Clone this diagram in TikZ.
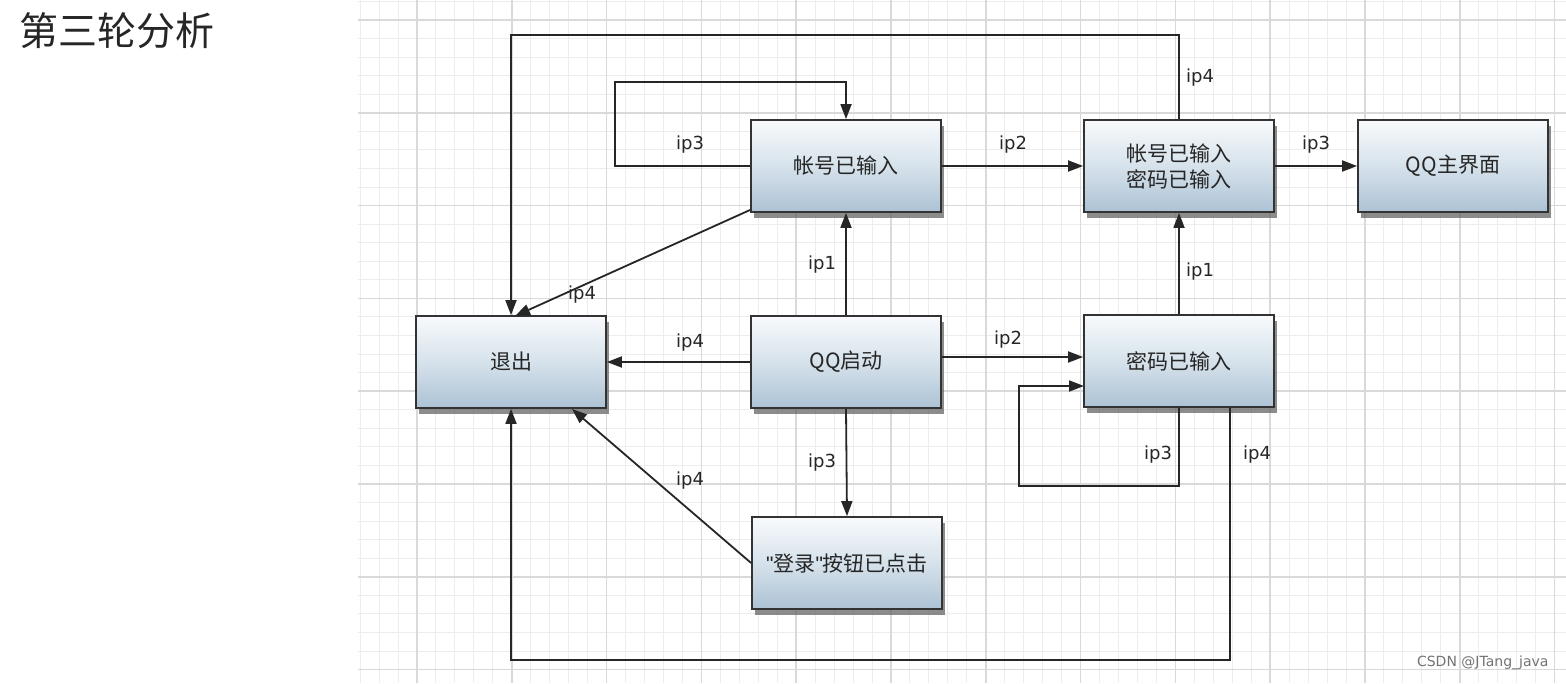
\documentclass[tikz,border=0pt]{standalone}
\usepackage{fontspec}
\setmainfont{DejaVu Sans}
\newfontfamily\cjk{Noto Sans CJK SC}
\newfontfamily\latinq{Liberation Sans}
\usetikzlibrary{arrows.meta,shadows,calc}
\definecolor{boxbot}{RGB}{172,194,212}
\definecolor{boxmid}{RGB}{214,226,235}
\definecolor{boxtop}{RGB}{248,250,252}
\begin{document}
\begin{tikzpicture}[x=1pt,y=-1pt,
  box/.style={draw=black!80,line width=1.8pt,minimum width=190pt,minimum height=92pt,inner sep=0pt,
    top color=boxtop,bottom color=boxbot,middle color=boxmid,
    drop shadow={shadow xshift=3pt,shadow yshift=-6pt,fill=black!60,opacity=0.75},
    font=\cjk\fontsize{21}{26}\selectfont,text=black!85,align=center},
  conn/.style={line width=1.8pt,draw=black!85,-{Triangle[length=15pt,width=11pt]}},
  lbl/.style={font=\fontsize{18}{20}\selectfont,text=black!85,inner sep=0pt}
]
\useasboundingbox (0,0) rectangle (1566,683);
\fill[white] (0,0) rectangle (1566,683);
% grid
\begin{scope}
\clip (358,0) rectangle (1566,683);
\foreach \i in {-3,...,63}{
  \pgfmathsetmacro{\xx}{417+18.96*\i}
  \draw[black!7,line width=1pt] (\xx,0) -- (\xx,683);
}
\foreach \j in {-1,...,36}{
  \pgfmathsetmacro{\yy}{20+18.56*\j}
  \draw[black!7,line width=1pt] (358,\yy) -- (1566,\yy);
}
\foreach \i in {-1,...,13}{
  \pgfmathsetmacro{\xx}{417+94.8*\i}
  \draw[black!15,line width=1.5pt] (\xx,0) -- (\xx,683);
}
\foreach \j in {0,...,7}{
  \pgfmathsetmacro{\yy}{20+92.8*\j}
  \draw[black!15,line width=1.5pt] (358,\yy) -- (1566,\yy);
}
\end{scope}

% title
\node[font=\cjk\fontsize{39}{44}\selectfont,text=black!85,anchor=west,inner sep=0pt] (title) at (19,31) {第三轮分析};

% boxes
\node[box] (A) at (846,166) {帐号已输入};
\node[box] (AB) at (1179,166) {帐号已输入\\密码已输入};
\node[box] (M) at (1453,166) {QQ主界面};
\node[box] (E) at (511,362) {退出};
\node[box] (S) at (846,362) {QQ启动};
\node[box] (P) at (1179,361) {密码已输入};
\node[box] (L) at (847,563) {{\latinq "}登录{\latinq "}按钮已点击};

% helper coordinates
\coordinate (t1) at (1179,35);
\coordinate (t2) at (511,35);
\coordinate (la) at (615,82);
\coordinate (lp) at (1019,486);
\coordinate (pin) at (1084,386);
\coordinate (pb) at (1230,408);
\coordinate (bl) at (511,660);
\coordinate (ein) at (572,409);
\coordinate (ein2) at (515,316);
\coordinate (aout) at (750,210);

% connectors
\draw[conn] (AB.north) -- (t1) -- (t2) -- (E.north);
\draw[conn] (A.west) -| (la) -| (A.north);
\draw[conn] (A.east) -- (AB.west);
\draw[conn] (AB.east) -- (M.west);
\draw[conn] (aout) -- (ein2);
\draw[conn] (S.north) -- (A.south);
\draw[conn] (S.west) -- (E.east);
\draw[conn] ([yshift=5pt]S.east) -- ([yshift=4pt]P.west);
\draw[conn] (P.north) -- (AB.south);
\draw[conn] (P.south) |- (lp) |- (pin);
\draw[conn] (S.south) -- (L.north);
\draw[conn] (L.west) -- (ein);
\draw[conn] (pb) |- (bl) -- (E.south);

% labels
\node[lbl] (l1) at (1200,78) {ip4};
\node[lbl] (l2) at (690,145) {ip3};
\node[lbl] (l3) at (1013,145) {ip2};
\node[lbl] (l4) at (1316,145) {ip3};
\node[lbl] (l5) at (582,295) {ip4};
\node[lbl] (l6) at (822,265) {ip1};
\node[lbl] (l7) at (690,343) {ip4};
\node[lbl] (l8) at (1008,340) {ip2};
\node[lbl] (l9) at (1200,272) {ip1};
\node[lbl] (l10) at (1158,455) {ip3};
\node[lbl] (l11) at (822,463) {ip3};
\node[lbl] (l12) at (690,481) {ip4};
\node[lbl] (l13) at (1257,455) {ip4};

% watermark
\node[anchor=east,font=\fontsize{14}{16}\selectfont,text=black!55] (wm) at (1552,663) {CSDN @JTang\_java};
\end{tikzpicture}
\end{document}
